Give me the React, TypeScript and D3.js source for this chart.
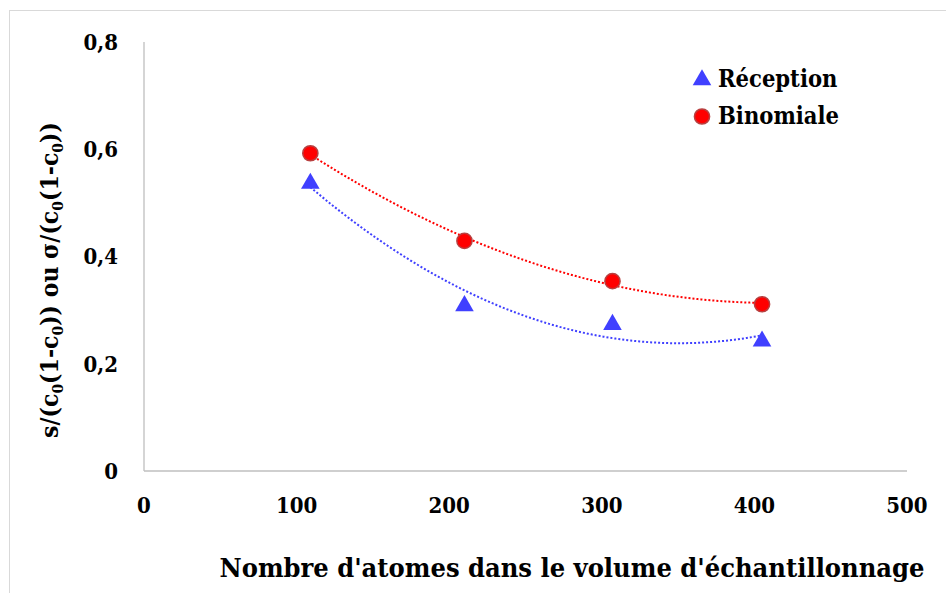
import React from "react";
import * as d3 from "d3";

const xValues = [109, 210, 307, 405];
const receptionValues = [0.538, 0.31, 0.275, 0.244];
const binomialeValues = [0.5925, 0.429, 0.354, 0.311];
const xTicks = [0, 100, 200, 300, 400, 500];
const yTicks = [0, 0.2, 0.4, 0.6, 0.8];
const seriesNames = ["Réception", "Binomiale"];

const W = 946;
const H = 593;
const FONT = "'DejaVu Serif Condensed', 'DejaVu Serif', serif";

function quadFit(xs: number[], ys: number[]) {
  // least squares fit y = a + b x + c x^2 (Excel polynomial trendline, order 2)
  const n = xs.length;
  let s0 = n, s1 = 0, s2 = 0, s3 = 0, s4 = 0, t0 = 0, t1 = 0, t2 = 0;
  for (let i = 0; i < n; i++) {
    const x = xs[i], y = ys[i];
    s1 += x; s2 += x * x; s3 += x * x * x; s4 += x * x * x * x;
    t0 += y; t1 += x * y; t2 += x * x * y;
  }
  const M = [
    [s0, s1, s2, t0],
    [s1, s2, s3, t1],
    [s2, s3, s4, t2],
  ];
  for (let i = 0; i < 3; i++) {
    let p = i;
    for (let r = i + 1; r < 3; r++) if (Math.abs(M[r][i]) > Math.abs(M[p][i])) p = r;
    [M[i], M[p]] = [M[p], M[i]];
    for (let r = 0; r < 3; r++) {
      if (r === i) continue;
      const f = M[r][i] / M[i][i];
      for (let c = i; c < 4; c++) M[r][c] -= f * M[i][c];
    }
  }
  const a = M[0][3] / M[0][0];
  const b = M[1][3] / M[1][1];
  const c = M[2][3] / M[2][2];
  return (x: number) => a + b * x + c * x * x;
}

export default function App() {
  const x = d3.scaleLinear().domain([0, 500]).range([144, 907]);
  const y = d3.scaleLinear().domain([0, 0.8]).range([471, 42]);

  const xsFine = d3.range(xValues[0], xValues[xValues.length - 1] + 0.01, 2);
  const fitR = quadFit(xValues, receptionValues);
  const fitB = quadFit(xValues, binomialeValues);
  const pathR = d3.line<number>().x((d) => x(d)).y((d) => y(fitR(d)))(xsFine);
  const pathB = d3.line<number>().x((d) => x(d)).y((d) => y(fitB(d)))(xsFine);

  const blue = "#4040ff";
  const red = "#ff0000";
  const tri = d3.symbol().type(d3.symbolTriangle).size(150)();
  const fmt = (v: number) => (v === 0 ? "0" : d3.format(".1f")(v).replace(".", ","));

  return (
    <svg
      width={W}
      height={H}
      style={{
        position: "absolute",
        left: 0,
        top: 0,
        background: "#fff",
        fontFamily: FONT,
        fontWeight: 700,
        fontStretch: "condensed",
      }}
    >
      <rect x={9.5} y={10.5} width={W} height={H} fill="#fff" stroke="#d9d9d9" strokeWidth={1} />
      {/* axes */}
      <line x1={x(0)} x2={x(0)} y1={y(0.8)} y2={y(0)} stroke="#bfbfbf" strokeWidth={1.3} />
      <line x1={x(0)} x2={x(500)} y1={y(0)} y2={y(0)} stroke="#bfbfbf" strokeWidth={1.3} />
      {yTicks.map((t) => (
        <text key={t} x={118} y={y(t)} dy="0.36em" textAnchor="end" fontSize={22} fill="#000">
          {fmt(t)}
        </text>
      ))}
      {xTicks.map((t) => (
        <text key={t} x={x(t)} y={505} dy="0.36em" textAnchor="middle" fontSize={22} fill="#000">
          {t}
        </text>
      ))}
      {/* trendlines */}
      <path d={pathR || ""} fill="none" stroke={blue} strokeWidth={2} strokeDasharray="2 2" />
      <path d={pathB || ""} fill="none" stroke={red} strokeWidth={2} strokeDasharray="2 2" />
      {/* markers */}
      {xValues.map((v, i) => (
        <path key={"r" + i} d={tri || ""} transform={`translate(${x(v)},${y(receptionValues[i]) + 1})`} fill={blue} />
      ))}
      {xValues.map((v, i) => (
        <circle key={"b" + i} cx={x(v)} cy={y(binomialeValues[i])} r={7.6} fill={red} stroke="#b84040" strokeWidth={1.5} />
      ))}
      {/* legend */}
      <path d={tri || ""} transform="translate(702,80)" fill={blue} />
      <text x={718} y={87} fontSize={23.5} fill="#000">{seriesNames[0]}</text>
      <circle cx={702} cy={116.5} r={7.6} fill={red} stroke="#b84040" strokeWidth={1.5} />
      <text x={718} y={124} fontSize={23.5} fill="#000">{seriesNames[1]}</text>
      {/* axis titles */}
      <text x={572} y={577} textAnchor="middle" fontSize={26} fill="#000" textLength={705} lengthAdjust="spacingAndGlyphs">
        Nombre d'atomes dans le volume d'échantillonnage
      </text>
      <text transform="translate(58,280) rotate(-90)" textAnchor="middle" fontSize={24.5} fill="#000">
        s/(c<tspan fontSize={15.5} dy={5}>0</tspan>
        <tspan dy={-5}>(1-c</tspan>
        <tspan fontSize={15.5} dy={5}>0</tspan>
        <tspan dy={-5}>)) ou σ/(c</tspan>
        <tspan fontSize={15.5} dy={5}>0</tspan>
        <tspan dy={-5}>(1-c</tspan>
        <tspan fontSize={15.5} dy={5}>0</tspan>
        <tspan dy={-5}>))</tspan>
      </text>
    </svg>
  );
}
